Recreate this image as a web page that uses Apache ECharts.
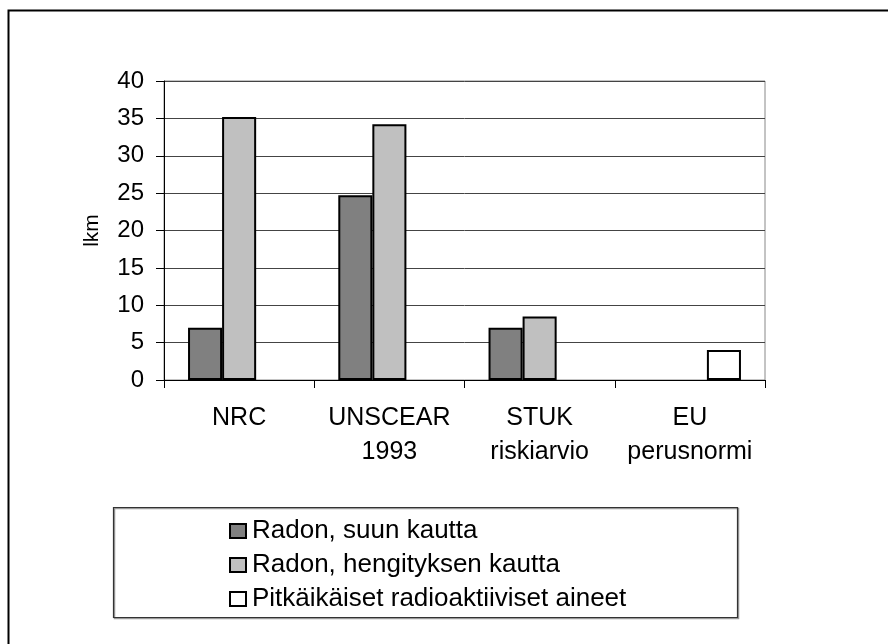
<!DOCTYPE html>
<html><head><meta charset="utf-8">
<script src="https://cdn.jsdelivr.net/npm/echarts@6/dist/echarts.min.js"></script>
<style>html,body{margin:0;padding:0;background:#fff}#c{width:888px;height:644px}</style>
</head><body><div id="c"></div>
<script>
var categories = ['NRC', 'UNSCEAR\n1993', 'STUK\nriskiarvio', 'EU\nperusnormi'];
var seriesNames = ['Radon, suun kautta', 'Radon, hengityksen kautta', 'Pitkäikäiset radioaktiiviset aineet'];
var suunKautta = [7, 24.7, 7, null];
var hengityksenKautta = [35.2, 34.2, 8.5, null];
var pitkaikaiset = [null, null, null, 4];
var yTicks = [0, 5, 10, 15, 20, 25, 30, 35, 40];
var colors = ['#808080', '#c0c0c0', '#ffffff'];
var font = 'Liberation Sans, Arial, sans-serif';

var chart = echarts.init(document.getElementById('c'), null, {renderer: 'canvas'});
var dataSets = [suunKautta, hengityksenKautta, pitkaikaiset];
chart.setOption({
  animation: false,
  backgroundColor: '#fff',
  textStyle: {fontFamily: font},
  grid: {left: 164, top: 81, right: 123, bottom: 264, show: true, borderColor: '#888', borderWidth: 1, backgroundColor: 'transparent'},
  xAxis: {
    type: 'category', data: categories,
    axisLine: {lineStyle: {color: '#000', width: 1}},
    axisTick: {show: true, length: 8, inside: false, lineStyle: {color: '#000'}},
    axisLabel: {interval: 0, hideOverlap: false, fontSize: 25, color: '#000', fontFamily: font, lineHeight: 34, margin: 21},
    splitLine: {show: false}
  },
  yAxis: {
    type: 'value', min: yTicks[0], max: yTicks[yTicks.length - 1], interval: 5,
    name: 'lkm', nameLocation: 'middle', nameGap: 61, nameRotate: 90,
    nameTextStyle: {fontSize: 21, color: '#000', fontFamily: font},
    axisLine: {show: true, lineStyle: {color: '#000', width: 1}},
    axisTick: {show: true, length: 8, lineStyle: {color: '#000'}},
    axisLabel: {fontSize: 24, color: '#000', fontFamily: font, margin: 20},
    splitLine: {show: true, lineStyle: {color: '#444', width: 1}}
  },
  legend: {
    orient: 'vertical', left: 224, top: 511, itemGap: 4,
    itemWidth: 16, itemHeight: 14,
    textStyle: {fontSize: 26, color: '#000', fontFamily: font, padding: [0, 0, 0, 1], lineHeight: 30},
    itemStyle: {borderColor: '#000', borderWidth: 2},
    data: seriesNames.map(function (n) { return {name: n, icon: 'rect'}; })
  },
  graphic: [
    {type: 'rect', shape: {x: 8.5, y: 10.5, width: 1000, height: 1000}, style: {fill: 'none', stroke: '#000', lineWidth: 2}, z: -1, silent: true},
    {type: 'rect', shape: {x: 114.5, y: 508.5, width: 624, height: 110}, style: {fill: 'none', stroke: '#999', lineWidth: 1.5}, silent: true},
    {type: 'rect', shape: {x: 113.5, y: 507.5, width: 624, height: 110}, style: {fill: 'none', stroke: '#333', lineWidth: 1.2}, silent: true}
  ],
  series: seriesNames.map(function (n, i) {
    return {
      name: n, type: 'bar', data: dataSets[i],
      barGap: '0%', barCategoryGap: '32%',
      itemStyle: {color: colors[i], borderColor: '#000', borderWidth: 2}
    };
  })
});
</script></body></html>
